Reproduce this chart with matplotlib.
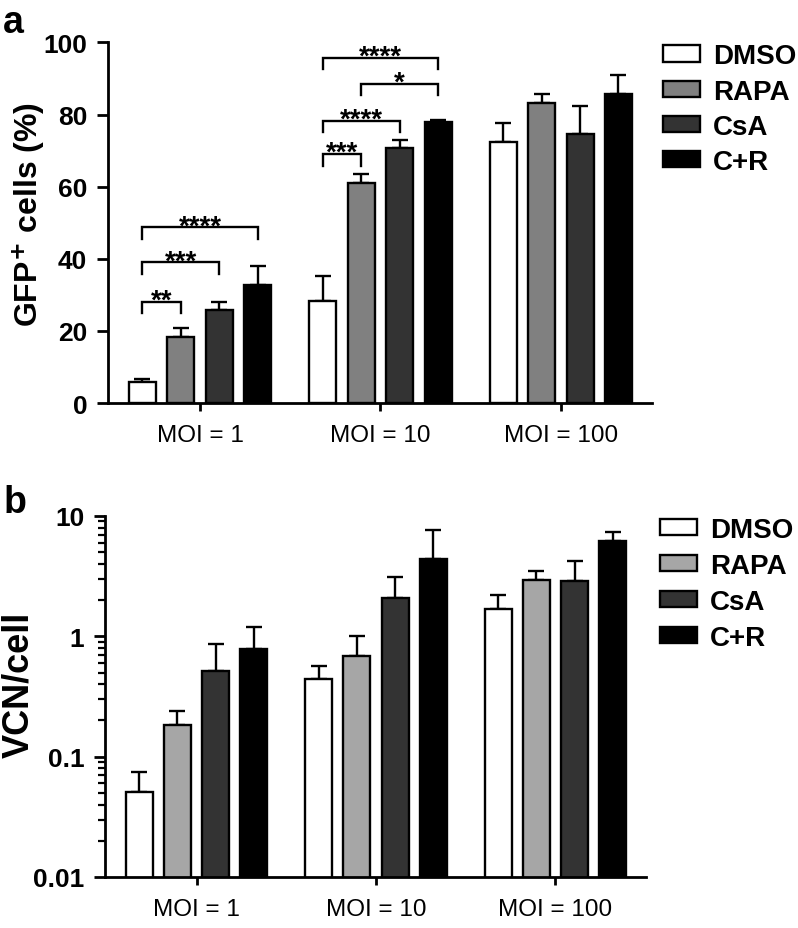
import matplotlib
matplotlib.use("Agg")
import matplotlib.pyplot as plt
import numpy as np
from matplotlib.patches import Patch
from matplotlib.ticker import LogLocator, NullFormatter, FixedLocator

plt.rcParams["font.family"] = ["Liberation Sans", "DejaVu Sans"]

groups = ["MOI = 1", "MOI = 10", "MOI = 100"]
treatments = ["DMSO", "RAPA", "CsA", "C+R"]

# panel a: GFP+ cells (%)
gfp_mean = {
    "DMSO": [5.8, 28.4, 72.5],
    "RAPA": [18.4, 61.0, 83.1],
    "CsA": [25.9, 70.7, 74.7],
    "C+R": [32.6, 78.0, 85.6],
}
gfp_err = {
    "DMSO": [0.8, 6.7, 5.3],
    "RAPA": [2.5, 2.5, 2.5],
    "CsA": [2.2, 2.2, 7.8],
    "C+R": [5.3, 0.4, 5.5],
}

# panel b: VCN/cell (log scale)
vcn_mean = {
    "DMSO": [0.051, 0.44, 1.68],
    "RAPA": [0.185, 0.68, 2.95],
    "CsA": [0.52, 2.1, 2.9],
    "C+R": [0.78, 4.4, 6.2],
}
vcn_err = {
    "DMSO": [0.023, 0.13, 0.52],
    "RAPA": [0.055, 0.32, 0.55],
    "CsA": [0.35, 1.0, 1.3],
    "C+R": [0.42, 3.2, 1.2],
}

# significance brackets: (group, from, to, label, y)
brackets = [
    (0, 0, 1, "**", 28.1),
    (0, 0, 2, "***", 39.0),
    (0, 0, 3, "****", 48.7),
    (1, 0, 1, "***", 69.0),
    (1, 0, 2, "****", 78.3),
    (1, 1, 3, "*", 88.6),
    (1, 0, 3, "****", 95.8),
]

colors_a = ["white", "#808080", "#333333", "black"]
colors_b = ["white", "#a6a6a6", "#333333", "black"]

BAR_W = 0.15
STEP = 0.213
offsets = (np.arange(4) - 1.5) * STEP
x = np.arange(len(groups))


def draw_panel(ax, means, errs, colors):
    for i, name in enumerate(treatments):
        pos = x + offsets[i]
        err = np.array(errs[name])
        ax.errorbar(pos, means[name], yerr=[np.zeros_like(err), err], fmt="none",
                    ecolor="black", elinewidth=1.7, capsize=5.5, capthick=1.7, zorder=1)
        ax.bar(pos, means[name], width=BAR_W, color=colors[i], edgecolor="black",
               linewidth=1.7, zorder=2, label=name)
    for side in ("top", "right"):
        ax.spines[side].set_visible(False)
    for side in ("left", "bottom"):
        ax.spines[side].set_linewidth(2.0)
    ax.set_xlim(-0.51, 2.505)
    ax.set_xticks(x)
    ax.set_xticklabels(groups, fontsize=17.5)
    ax.tick_params(axis="x", length=6, width=2.0, pad=9)
    ax.tick_params(axis="y", which="major", length=8, width=2.0, pad=7, labelsize=19)
    handles = [Patch(facecolor=c, edgecolor="black", linewidth=1.7) for c in colors]
    return handles


fig = plt.figure(figsize=(7.98, 9.29), dpi=100)

ax1 = fig.add_axes([0.1353, 0.5651, 0.6817, 0.3881])
h1 = draw_panel(ax1, gfp_mean, gfp_err, colors_a)
ax1.set_ylim(0, 100)
ax1.set_yticks([0, 20, 40, 60, 80, 100])
for lab in ax1.get_yticklabels():
    lab.set_fontweight("bold")
ax1.set_ylabel("GFP$^\\mathbf{+}$ cells (%)", fontsize=23, fontweight="bold", va="center")
ax1.yaxis.set_label_coords(-0.147, 0.525)

for g, a, b, label, y in brackets:
    x0 = g + offsets[a]
    x1 = g + offsets[b]
    ax1.plot([x0, x0, x1, x1], [y - 3.2, y, y, y - 3.2], color="black", lw=1.7,
             solid_joinstyle="miter", zorder=3)
    ax1.text((x0 + x1) / 2, y - 1.6, label, ha="center", va="baseline",
             fontsize=20, fontweight="bold")

ax1.legend(h1, treatments, loc="upper left", bbox_to_anchor=(1.0, 1.028), frameon=False,
           prop={"size": 20, "weight": "bold"}, handlelength=1.33, handleheight=0.54,
           handletextpad=0.47, labelspacing=0.33, borderaxespad=0)

ax2 = fig.add_axes([0.1316, 0.0549, 0.678, 0.3886])
h2 = draw_panel(ax2, vcn_mean, vcn_err, colors_b)
ax2.set_yscale("log")
ax2.set_ylim(0.01, 10)
ax2.yaxis.set_major_locator(FixedLocator([0.01, 0.1, 1, 10]))
ax2.set_yticklabels(["0.01", "0.1", "1", "10"], fontsize=19, fontweight="bold")
ax2.yaxis.set_minor_locator(LogLocator(base=10, subs=np.arange(2, 10)))
ax2.yaxis.set_minor_formatter(NullFormatter())
ax2.tick_params(axis="y", which="minor", length=5, width=1.6)
ax2.set_ylabel("VCN/cell", fontsize=26, fontweight="bold", va="center")
ax2.yaxis.set_label_coords(-0.16, 0.535)

ax2.legend(h2, treatments, loc="upper left", bbox_to_anchor=(1.005, 1.028), frameon=False,
           prop={"size": 20, "weight": "bold"}, handlelength=1.33, handleheight=0.54,
           handletextpad=0.47, labelspacing=0.36, borderaxespad=0)

fig.text(0.004, 0.995, "a", fontsize=27, fontweight="bold", va="top", ha="left")
fig.text(0.004, 0.478, "b", fontsize=27, fontweight="bold", va="top", ha="left")

fig.savefig("out.png", dpi=100)
